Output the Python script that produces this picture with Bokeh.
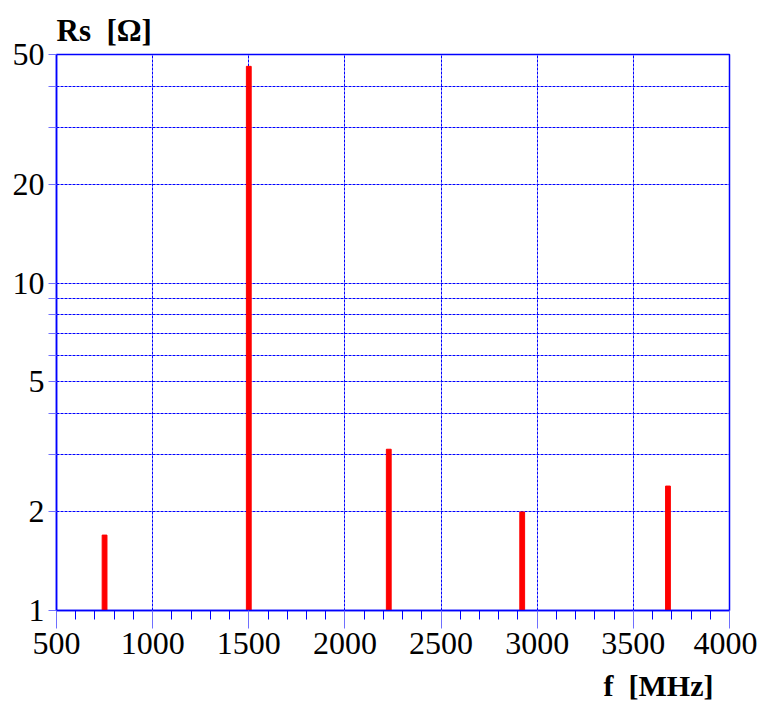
from bokeh.plotting import figure
from bokeh.models import Range1d, FixedTicker, CustomJSTickFormatter, Title
from bokeh.embed import file_html
from bokeh.resources import INLINE

# data
freq_mhz = [750, 1500, 2228, 2922, 3680]
rs_ohm = [1.70, 46.0, 3.11, 2.0, 2.40]

x_major = [500, 1000, 1500, 2000, 2500, 3000, 3500, 4000]
x_minor = [v for v in range(500, 4001, 100) if v % 500 != 0]
y_major = [1, 2, 5, 10, 20, 50]
y_minor = [3, 4, 6, 7, 8, 9, 30, 40]

BLUE = "#0000ff"
LIGHT = "#6f6fff"
FONT = "Liberation Serif"

p = figure(width=757, height=709, frame_width=673, frame_height=556,
           min_border_left=56, min_border_top=54, min_border_right=28,
           min_border_bottom=99,
           x_range=Range1d(500, 4000), y_range=Range1d(1, 50),
           y_axis_type="log", output_backend="svg", toolbar_location=None)

p.vbar(x=freq_mhz, top=rs_ohm, bottom=1, width=25, color="#ff0000")

p.xaxis.ticker = FixedTicker(ticks=x_major, minor_ticks=x_minor)
p.yaxis.ticker = FixedTicker(ticks=y_major, minor_ticks=y_minor)
p.yaxis.formatter = CustomJSTickFormatter(code="return tick.toString();")

for ax in (p.xaxis[0], p.yaxis[0]):
    ax.axis_line_color = BLUE
    ax.axis_line_width = 1.5
    ax.major_tick_in = 0
    ax.minor_tick_in = 0
    ax.major_label_text_font = FONT
    ax.major_label_text_font_size = "32px"
    ax.major_label_text_color = "black"
    ax.major_tick_line_color = LIGHT

p.xaxis.major_tick_out = 18
p.xaxis.minor_tick_out = 9
p.xaxis.minor_tick_line_color = BLUE
p.xaxis.major_label_standoff = 4

p.yaxis.major_tick_out = 8
p.yaxis.minor_tick_out = 8
p.yaxis.minor_tick_line_color = LIGHT
p.yaxis.major_label_standoff = 4

p.xgrid.grid_line_color = BLUE
p.xgrid.grid_line_dash = "3 1"
p.ygrid.grid_line_color = BLUE
p.ygrid.grid_line_dash = "3 1"
p.ygrid.minor_grid_line_color = BLUE
p.ygrid.minor_grid_line_dash = "3 1"

p.outline_line_color = BLUE
p.outline_line_width = 1.5
p.outline_line_alpha = 1

p.title.text = "Rs\u00a0 [Ω]"
p.title.align = "left"
p.title.text_font = FONT
p.title.text_font_style = "bold"
p.title.text_font_size = "31px"
p.title.text_color = "black"
p.title.offset = 0
p.title.standoff = 14

p.add_layout(Title(text="f\u00a0 [MHz]", align="right", text_font=FONT,
                   text_font_style="bold", text_font_size="30px",
                   text_color="black", offset=16, standoff=20), "below")

open("out.html", "w").write(file_html(p, INLINE))
